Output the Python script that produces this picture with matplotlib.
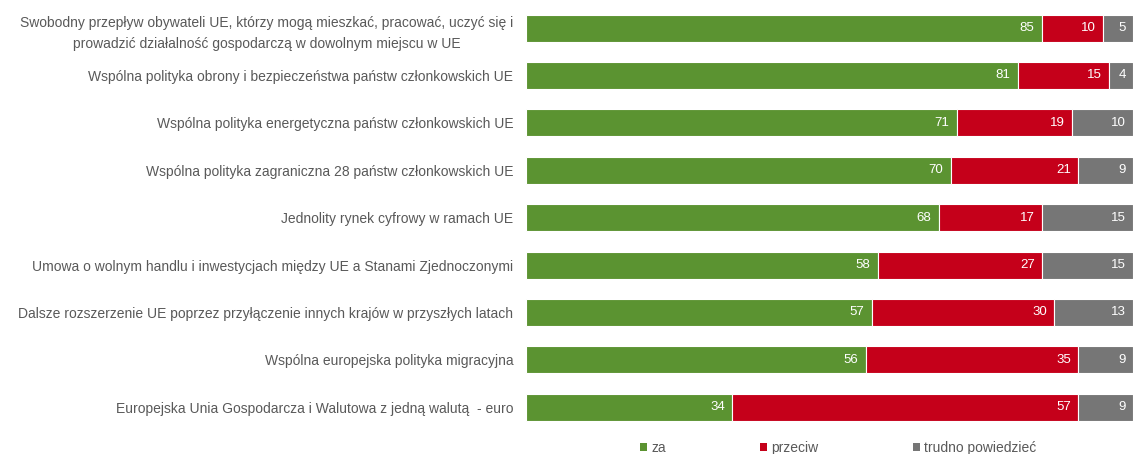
import matplotlib
matplotlib.use("Agg")
import matplotlib.pyplot as plt
import numpy as np
from matplotlib.patches import Patch

plt.rcParams['font.family'] = ['Liberation Sans', 'DejaVu Sans']

# data
categories = [
    "Swobodny przepływ obywateli UE, którzy mogą mieszkać, pracować, uczyć się i\nprowadzić działalność gospodarczą w dowolnym miejscu w UE",
    "Wspólna polityka obrony i bezpieczeństwa państw członkowskich UE",
    "Wspólna polityka energetyczna państw członkowskich UE",
    "Wspólna polityka zagraniczna 28 państw członkowskich UE",
    "Jednolity rynek cyfrowy w ramach UE",
    "Umowa o wolnym handlu i inwestycjach między UE a Stanami Zjednoczonymi",
    "Dalsze rozszerzenie UE poprzez przyłączenie innych krajów w przyszłych latach",
    "Wspólna europejska polityka migracyjna",
    "Europejska Unia Gospodarcza i Walutowa z jedną walutą  - euro",
]
za = [85, 81, 71, 70, 68, 58, 57, 56, 34]
przeciw = [10, 15, 19, 21, 17, 27, 30, 35, 57]
trudno = [5, 4, 10, 9, 15, 15, 13, 9, 9]
series_names = ["za", "przeciw", "trudno powiedzieć"]
colors = ["#5B9331", "#C5001A", "#767676"]
text_color = "#595959"

fig = plt.figure(figsize=(11.33, 4.54), dpi=100)
ax = fig.add_axes([0.464, 0.0507, 0.536, 0.9398])

y = np.arange(len(categories))
left = np.zeros(len(categories))
for vals, col in zip([za, przeciw, trudno], colors):
    vals = np.array(vals)
    bars = ax.barh(y, vals, left=left, height=0.57, color=col,
                   edgecolor="white", linewidth=0.8)
    for b, v in zip(bars, vals):
        ax.text(b.get_x() + b.get_width() - 1.2, b.get_y() + b.get_height() / 2,
                str(v), ha="right", va="center", color="white", fontsize=9.5)
    left += vals

ax.set_xlim(0, 100)
ax.set_ylim(len(categories) - 0.5, -0.5)
ax.set_yticks(y)
ax.set_yticklabels(categories, fontsize=10, color=text_color)
for lbl in ax.get_yticklabels():
    lbl.set_multialignment("center")
    lbl.set_linespacing(1.7)
ax.tick_params(axis="y", length=0, pad=9)
ax.set_xticks([])
for s in ax.spines.values():
    s.set_visible(False)

handles = [Patch(facecolor=c, edgecolor="none") for c in colors]
fig.legend(handles, series_names, loc="center", bbox_to_anchor=(0.740, 0.014),
           ncol=3, frameon=False, fontsize=10, labelcolor=text_color,
           handlelength=0.5, handleheight=0.5, handletextpad=0.3,
           columnspacing=6.8)

fig.savefig("out.png", dpi=100)
